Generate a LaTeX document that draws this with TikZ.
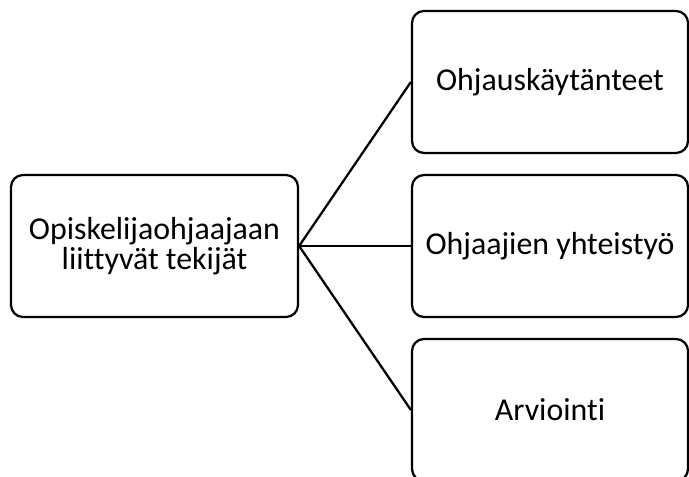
\documentclass[tikz,border=0pt]{standalone}
\usepackage{fontspec}
\setmainfont{Carlito}[Ligatures={NoCommon}]
\usetikzlibrary{positioning}

\begin{document}
\begin{tikzpicture}[x=1bp,y=-1bp,
  box/.style={draw,line width=2.25bp,rounded corners=12bp,align=center,
    font=\fontsize{32}{30}\selectfont},
  conn/.style={line width=2.25bp}]
\useasboundingbox (0,0) rectangle (689,477);
\clip (0,0) rectangle (689,477);
\node[box,minimum width=287bp,minimum height=142bp] (tek) at (154.5,246) {Opiskelijaohjaajaan\\liittyvät tekijät};
\node[box,minimum width=276bp,minimum height=142bp] (ohj) at (550,82) {Ohjauskäytänteet};
\node[box,minimum width=276bp,minimum height=142bp] (yht) at (550,246) {Ohjaajien yhteistyö};
\node[box,minimum width=276bp,minimum height=142bp] (arv) at (550,410) {Arviointi};
\draw[conn] (tek.east) -- (ohj.west);
\draw[conn] (tek.east) -- (yht.west);
\draw[conn] (tek.east) -- (arv.west);
\end{tikzpicture}
\end{document}
